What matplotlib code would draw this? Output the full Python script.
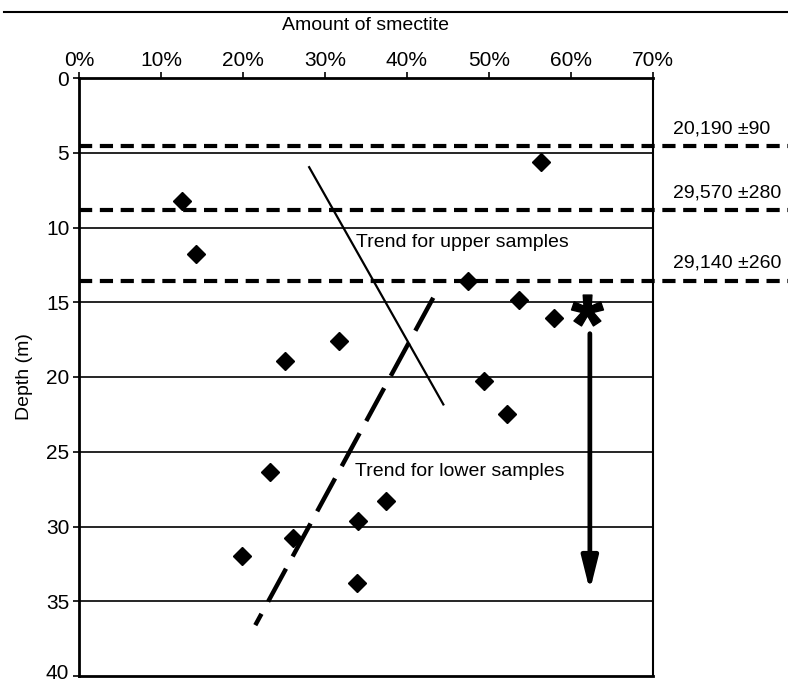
import matplotlib
matplotlib.use("Agg")
import matplotlib.pyplot as plt
from matplotlib.lines import Line2D
from matplotlib.textpath import TextPath
from matplotlib.font_manager import FontProperties
from matplotlib.path import Path
import matplotlib.transforms as mtransforms
import numpy as np

plt.rcParams['font.family'] = ['Liberation Sans', 'DejaVu Sans']
plt.rcParams['lines.scale_dashes'] = False

# ---- data ----
smectite_pct = [56.3, 12.6, 14.3, 47.4, 53.7, 57.9, 31.7, 25.1, 49.4, 52.2,
                23.3, 37.4, 34.0, 26.1, 19.9, 33.9]
depth_m = [5.6, 8.2, 11.8, 13.6, 14.85, 16.05, 17.6, 18.9, 20.3, 22.5,
           26.35, 28.3, 29.6, 30.8, 32.0, 33.8]

x_ticks = [0, 10, 20, 30, 40, 50, 60, 70]
x_tick_labels = ['0%', '10%', '20%', '30%', '40%', '50%', '60%', '70%']
y_ticks = [0, 5, 10, 15, 20, 25, 30, 35, 40]
grid_depths = [5, 10, 15, 20, 25, 30, 35]

date_depths = [4.55, 8.8, 13.55]
date_labels = ['20,190 \u00b190', '29,570 \u00b1280', '29,140 \u00b1260']
date_label_depths = [3.4, 7.7, 12.4]

upper_trend_x = [28.0, 44.5]
upper_trend_y = [5.9, 21.9]
lower_trend_x = [43.2, 21.5]
lower_trend_y = [14.7, 36.6]

star_x, star_y = 62.0, 15.5
arrow_x = 62.3
arrow_y_start, arrow_y_end = 17.1, 34.3

# ---- figure ----
fig = plt.figure(figsize=(7.88, 6.85), dpi=100)
ax = fig.add_axes([79/788, 1 - 676/685, (653 - 79)/788, (676 - 78)/685])
ax.set_xlim(0, 70)
ax.set_ylim(40, 0)

for s in ['left', 'top', 'bottom']:
    ax.spines[s].set_linewidth(2.0)
ax.spines['right'].set_linewidth(1.5)

ax.xaxis.tick_top()
ax.xaxis.set_label_position('top')
ax.set_xticks(x_ticks)
ax.set_xticklabels(x_tick_labels)
ax.set_yticks(y_ticks)
ax.tick_params(axis='both', direction='out', length=4, width=1.2,
               labelsize=15, colors='black')
ax.tick_params(axis='x', pad=2)
ax.tick_params(axis='y', pad=3)
ax.set_xlabel('Amount of smectite', fontsize=14, labelpad=15)
ax.set_ylabel('Depth (m)', fontsize=14, labelpad=9)

# keep the bottom "40" label inside the canvas
last_lab = ax.get_yticklabels()[-1]
last_lab.set_transform(last_lab.get_transform() +
                       mtransforms.ScaledTranslation(0, 3/72, fig.dpi_scale_trans))

# horizontal grid lines
for d in grid_depths:
    ax.axhline(d, color='black', lw=1.2, zorder=1)

# dated horizons (dashed, extend beyond axes)
ytr = ax.get_yaxis_transform()
right_end = (788 - 79) / (653 - 79)
for d in date_depths:
    ax.plot([0, right_end], [d, d], transform=ytr, color='black', lw=3.0,
            dashes=(9.5, 5.5), dash_capstyle='butt', clip_on=False, zorder=2)
for d, lab in zip(date_label_depths, date_labels):
    ax.text((673 - 79) / (653 - 79), d, lab, transform=ytr, fontsize=14,
            ha='left', va='center', clip_on=False)

# trend lines
ax.plot(upper_trend_x, upper_trend_y, color='black', lw=1.6,
        solid_capstyle='butt', zorder=3)
ax.plot(lower_trend_x, lower_trend_y, color='black', lw=3.2,
        dashes=(27, 10), dash_capstyle='butt', zorder=3)

ax.text(33.8, 11.0, 'Trend for upper samples', fontsize=14, ha='left', va='center')
ax.text(33.6, 26.35, 'Trend for lower samples', fontsize=14, ha='left', va='center')

# data points
ax.plot(smectite_pct, depth_m, ls='none', marker='D', ms=9.2,
        color='black', zorder=4)

# asterisk marker (glyph path, centred on its own extents)
tp = TextPath((0, 0), '*', prop=FontProperties(family='Liberation Sans', weight='bold'), size=1)
ext = tp.get_extents()
cx = (ext.x0 + ext.x1) / 2
cy = (ext.y0 + ext.y1) / 2
verts = tp.vertices.copy()
codes = tp.codes.copy()
mask = codes != Path.CLOSEPOLY
verts[mask] = verts[mask] - [cx, cy]
verts[~mask] = 0.0
star_path = Path(verts, codes)
ax.plot([star_x], [star_y], ls='none', marker=star_path, ms=23,
        color='black', zorder=4)

# arrow
ax.annotate('', xy=(arrow_x, arrow_y_end), xytext=(arrow_x, arrow_y_start),
            arrowprops=dict(arrowstyle='-|>,head_length=2.0,head_width=0.5',
                            mutation_scale=10, lw=3.4, color='black',
                            shrinkA=0, shrinkB=0))

# page rule at top
fig.add_artist(Line2D([0.005, 1.0], [1 - 12/685, 1 - 12/685],
                      transform=fig.transFigure, color='black', lw=1.5))

fig.savefig('out.png', dpi=100)
